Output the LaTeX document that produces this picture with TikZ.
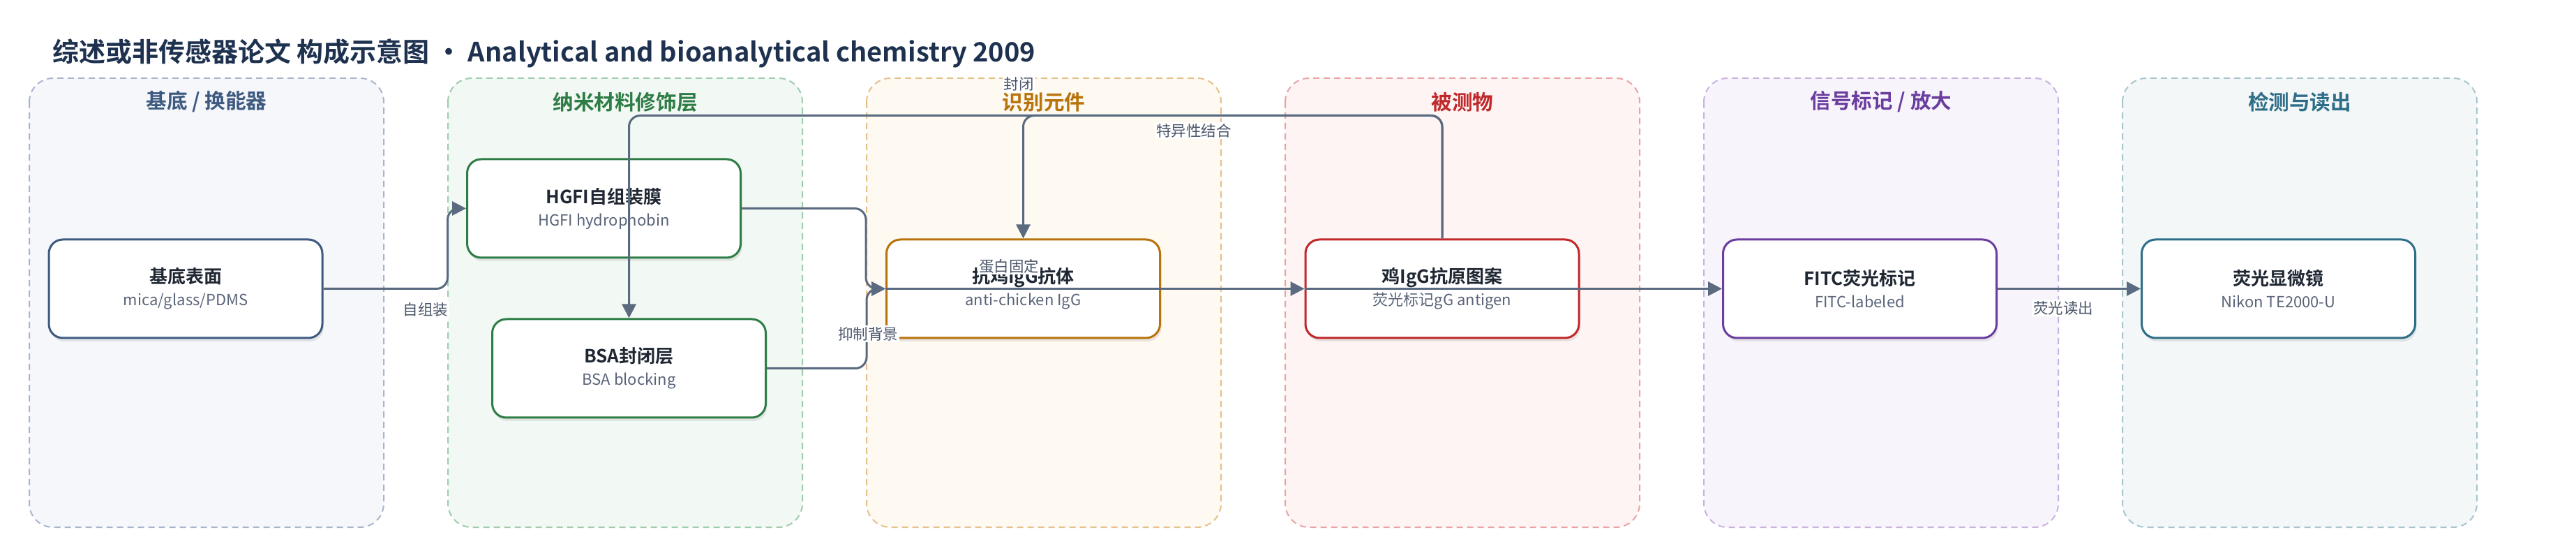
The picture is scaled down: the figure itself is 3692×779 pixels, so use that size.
\documentclass[tikz,border=0pt]{standalone}
\usepackage{fontspec}
\setmainfont{Noto Sans CJK SC}[BoldFont={Noto Sans CJK SC Bold}]
\usetikzlibrary{arrows.meta,shadows}

\definecolor{titleink}{HTML}{1E3250}
\definecolor{nodeink}{HTML}{1F2733}
\definecolor{subink}{HTML}{5A6478}
\definecolor{linkink}{HTML}{5A6A80}
\definecolor{lblink}{HTML}{4A5568}
% lane colours: bg = fill, bd = dashed border, ink = header + node border
\definecolor{lane1bg}{HTML}{F5F7FB}\definecolor{lane1bd}{HTML}{A7B5CC}\definecolor{lane1ink}{HTML}{3E5A80}
\definecolor{lane2bg}{HTML}{F2F8F3}\definecolor{lane2bd}{HTML}{9FCCAD}\definecolor{lane2ink}{HTML}{2E7D46}
\definecolor{lane3bg}{HTML}{FEF9F1}\definecolor{lane3bd}{HTML}{E5C08A}\definecolor{lane3ink}{HTML}{B8730B}
\definecolor{lane4bg}{HTML}{FEF4F4}\definecolor{lane4bd}{HTML}{E9A3A3}\definecolor{lane4ink}{HTML}{C0282A}
\definecolor{lane5bg}{HTML}{F8F4FC}\definecolor{lane5bd}{HTML}{C8B3E0}\definecolor{lane5ink}{HTML}{6A3D9E}
\definecolor{lane6bg}{HTML}{F3F7F8}\definecolor{lane6bd}{HTML}{A8C5CF}\definecolor{lane6ink}{HTML}{2F6E89}

\newcommand{\boxtext}[2]{{\bfseries\fontsize{13}{16}\selectfont\color{nodeink}#1}\\{\color{subink}#2}}

\tikzset{
	lanebox/.style={line width=1pt, dash pattern=on 4.5pt off 3pt, rounded corners=17pt},
	lanehead/.style={font=\bfseries\fontsize{14.8}{17}\selectfont},
	box/.style={draw, fill=white, rounded corners=10pt, line width=1.5pt,
		minimum width=196pt, minimum height=70.5pt, align=center,
		font=\fontsize{11}{16}\selectfont, yshift=-0.75pt,
		drop shadow={shadow xshift=1pt, shadow yshift=-2.5pt, opacity=0.16}},
	link/.style={draw=linkink, line width=1.5pt, rounded corners=8pt,
		-{Triangle[length=10pt,width=10pt]}, fill=none},
	lbl/.style={fill=white, inner sep=1pt, text=lblink, font=\fontsize{10.75}{12}\selectfont}
}

\begin{document}
\begin{tikzpicture}[x=0.5pt, y=-0.5pt]
	\useasboundingbox (0,0) rectangle (3692,779);
	
	%%%%% TITLE %%%%%
	\node[anchor=west, text=titleink, font=\bfseries\fontsize{19}{22}\selectfont] (title) at (68,76)
		{综述或非传感器论文 构成示意图 • Analytical and bioanalytical chemistry 2009};
	
	%%%%% LANES %%%%%
	\foreach \k/\head in {1/{基底 / 换能器}, 2/{纳米材料修饰层}, 3/{识别元件},
		4/{被测物}, 5/{信号标记 / 放大}, 6/{检测与读出}} {
		\pgfmathsetmacro{\lx}{42+600*(\k-1)}
		\draw[lanebox, fill=lane\k bg, draw=lane\k bd] (\lx,112) rectangle ++(508,643);
		\node[lanehead, text=lane\k ink] (head\k) at (\lx+254,146) {\head};
	}
	
	%%%%% NODES %%%%%
	\node[box, draw=lane1ink] (sub) at (266,412) {\boxtext{基底表面}{mica/glass/PDMS}};
	\node[box, draw=lane2ink] (hgfi) at (865.5,297) {\boxtext{HGFI自组装膜}{HGFI hydrophobin}};
	\node[box, draw=lane2ink] (bsa) at (901.5,526) {\boxtext{BSA封闭层}{BSA blocking}};
	\node[box, draw=lane3ink] (ab) at (1466.5,412) {\boxtext{抗鸡IgG抗体}{anti-chicken IgG}};
	\node[box, draw=lane4ink] (ag) at (2067,412) {\boxtext{鸡IgG抗原图案}{荧光标记gG antigen}};
	\node[box, draw=lane5ink] (fitc) at (2665.5,412) {\boxtext{FITC荧光标记}{FITC-labeled}};
	\node[box, draw=lane6ink] (mic) at (3265.5,412) {\boxtext{荧光显微镜}{Nikon TE2000-U}};
	
	%%%%% LINKS %%%%%
	\draw[link] (sub.east) -- ++(178,0) |- (hgfi.west);
	\draw[link] (hgfi.east) -- ++(178,0) |- (ab.west);
	\draw[link] (bsa.east) -- ++(143,0) |- (ab.west);
	\draw[link] (ab.west) -- (ag.west);
	\draw[link] (ag.west) -- (fitc.west);
	\draw[link] (fitc.east) -- (mic.west);
	\draw[link] (ag.north) -- ++(0,-176) -| (bsa.north);
	\draw[link] (ag.north) -- ++(0,-176) -| (ab.north);
	
	% link labels
	\node[lbl] (asm) at (610,443) {自组装};
	\node[lbl] (immob) at (1446,381) {蛋白固定};
	\node[lbl] (supp) at (1244,478) {抑制背景};
	\node[lbl] (seal) at (1460,120) {封闭};
	\node[lbl] (bind) at (1711,187) {特异性结合};
	\node[lbl] (readout) at (2957,441) {荧光读出};
	
\end{tikzpicture}
\end{document}
